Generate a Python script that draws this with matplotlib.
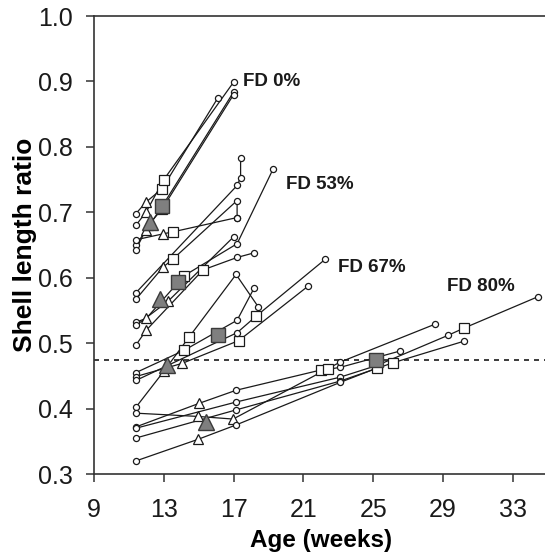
import matplotlib
matplotlib.use('Agg')
import matplotlib.pyplot as plt

# one list per individual: age (weeks), shell length ratio, point type
# point type: c = circle, t = triangle, s = square
fd0_age = [[11.4, 12.0, 12.9, 16.1],
           [11.4, 12.0, 13.0, 17.0],
           [11.4, 12.0, 12.9, 17.0],
           [11.4, 12.1, 12.9, 17.0]]
fd0_ratio = [[0.698, 0.716, 0.736, 0.875],
             [0.680, 0.701, 0.750, 0.899],
             [0.650, 0.673, 0.709, 0.884],
             [0.643, 0.680, 0.705, 0.880]]
fd0_kind = ['ctsc', 'ctsc', 'ctsc', 'ctsc']

fd53_age = [[11.4, 17.2, 17.4, 17.4],
            [11.4, 12.95, 13.5, 17.2, 17.2],
            [11.4, 12.95, 13.5, 17.2],
            [11.4, 12.0, 14.16, 17.2, 19.26],
            [11.4, 13.24, 17.02],
            [11.4, 12.0, 15.25, 17.2, 18.17]]
fd53_ratio = [[0.577, 0.741, 0.753, 0.783],
              [0.567, 0.616, 0.628, 0.718, 0.692],
              [0.658, 0.667, 0.670, 0.692],
              [0.532, 0.538, 0.603, 0.652, 0.766],
              [0.527, 0.564, 0.663],
              [0.497, 0.520, 0.612, 0.631, 0.638]]
fd53_kind = ['cccc', 'ctscc', 'ctsc', 'ctscc', 'ctc', 'ctscc']

fd67_age = [[11.4, 13.0, 14.44, 17.14, 18.4],
            [11.4, 14.16, 17.2, 18.17],
            [11.4, 14.04, 17.3, 21.26],
            [11.4, 17.2, 18.28, 22.24]]
fd67_ratio = [[0.402, 0.457, 0.509, 0.605, 0.556],
              [0.455, 0.489, 0.535, 0.584],
              [0.449, 0.469, 0.504, 0.587],
              [0.443, 0.516, 0.541, 0.628]]
fd67_kind = ['ctscc', 'cscc', 'ctsc', 'ccsc']

fd80_age = [[11.4, 15.02, 17.14, 22.0, 22.41, 23.1, 26.54],
            [11.4, 14.96, 16.97, 23.1, 28.54],
            [11.4, 17.14, 23.1, 25.22, 29.29, 30.2, 34.44],
            [11.4, 17.14, 23.1, 26.13, 30.2],
            [11.4, 14.96, 17.14, 23.1, 25.22]]
fd80_ratio = [[0.372, 0.408, 0.428, 0.459, 0.460, 0.463, 0.488],
              [0.393, 0.388, 0.384, 0.471, 0.529],
              [0.370, 0.410, 0.448, 0.466, 0.512, 0.523, 0.571],
              [0.355, 0.398, 0.442, 0.470, 0.503],
              [0.320, 0.353, 0.375, 0.440, 0.462]]
fd80_kind = ['ctcsscc', 'cttcc', 'cccscsc', 'cccsc', 'ctccs']

# group means (gray symbols)
mean_tri_age = [12.2, 12.78, 13.18, 15.42]
mean_tri_ratio = [0.685, 0.567, 0.466, 0.379]
mean_sq_age = [12.9, 13.8, 16.08, 25.16]
mean_sq_ratio = [0.709, 0.593, 0.512, 0.475]

group_names = ['FD 0%', 'FD 53%', 'FD 67%', 'FD 80%']
label_age = [17.55, 20.0, 23.0, 29.2]
label_ratio = [0.900, 0.743, 0.615, 0.586]

threshold = 0.474

plt.rcParams['font.family'] = ['Liberation Sans', 'DejaVu Sans']

fig = plt.figure(figsize=(5.45, 5.58), dpi=100)
ax = fig.add_axes([0.1725, 0.1505, 0.8325, 0.8208])

line_col = '#1a1a1a'
marker_style = {'c': dict(marker='o', ms=4.4),
                't': dict(marker='^', ms=6.5),
                's': dict(marker='s', ms=7.0)}

all_age = fd0_age + fd53_age + fd67_age + fd80_age
all_ratio = fd0_ratio + fd53_ratio + fd67_ratio + fd80_ratio
all_kind = fd0_kind + fd53_kind + fd67_kind + fd80_kind

for ages, ratios in zip(all_age, all_ratio):
    ax.plot(ages, ratios, color=line_col, lw=0.9, zorder=2)
for ages, ratios, kinds in zip(all_age, all_ratio, all_kind):
    for a, r, k in zip(ages, ratios, kinds):
        ax.plot(a, r, ls='none', mfc='white', mec=line_col, mew=0.9,
                zorder=3, **marker_style[k])

ax.plot(mean_tri_age, mean_tri_ratio, ls='none', marker='^', ms=11,
        mfc='#7f7f7f', mec='#3a3a3a', mew=1.0, zorder=5)
ax.plot(mean_sq_age, mean_sq_ratio, ls='none', marker='s', ms=10.5,
        mfc='#7f7f7f', mec='#3a3a3a', mew=1.0, zorder=5)

ax.axhline(threshold, color=line_col, lw=1.2, ls=(0, (3, 3)), zorder=1)

for name, a, r in zip(group_names, label_age, label_ratio):
    ax.text(a, r, name, fontsize=13.5, fontweight='bold', ha='left',
            va='center', color='#1a1a1a')

ax.set_xlim(9, 35)
ax.set_ylim(0.3, 1.0)
ax.set_xticks([9, 13, 17, 21, 25, 29, 33])
ax.set_yticks([0.3, 0.4, 0.5, 0.6, 0.7, 0.8, 0.9, 1.0])
ax.set_yticklabels(['%.1f' % v for v in ax.get_yticks()])
ax.tick_params(direction='out', length=6, width=1.1, labelsize=18,
               color='#333333', labelcolor='#1a1a1a')
ax.tick_params(axis='y', pad=9)
ax.tick_params(axis='x', pad=11)
for side in ['left', 'bottom', 'top']:
    ax.spines[side].set_color('#333333')
    ax.spines[side].set_linewidth(1.2)
ax.spines['right'].set_visible(False)

ax.set_xlabel('Age (weeks)', fontsize=17.5, fontweight='bold', labelpad=5)
ax.set_ylabel('Shell length ratio', fontsize=19, fontweight='bold', labelpad=1)

fig.savefig('out.png', dpi=100)
